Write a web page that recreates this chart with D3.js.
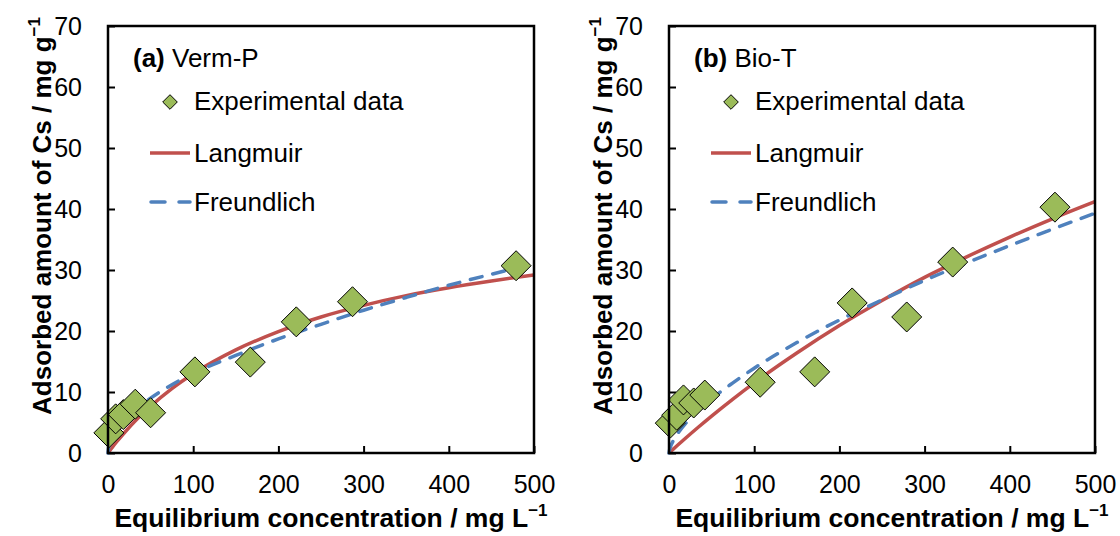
<!DOCTYPE html>
<html>
<head>
<meta charset="utf-8">
<script src="https://cdn.jsdelivr.net/npm/d3@7"></script>
<style>
  body { margin: 0; background: #fff; }
  svg text { font-family: "Liberation Sans", Arial, sans-serif; fill: #000; }
</style>
</head>
<body>
<svg id="chart" width="1120" height="536"></svg>
<script>
const xTicks = [0, 100, 200, 300, 400, 500];
const yTicks = [0, 10, 20, 30, 40, 50, 60, 70];

const curveConc = [0, 1, 2.5, 5, 10, 20, 35, 50, 75, 100, 150, 200, 250, 300, 350, 400, 450, 500];

// (a) Verm-P
const vermConc = [1, 9, 18, 32, 50, 102, 167, 221, 287, 479];
const vermAds = [3.3, 5.6, 6.3, 8.0, 6.6, 13.3, 14.9, 21.5, 24.8, 30.7];
const vermLangmuir = [0, 0.19, 0.46, 0.92, 1.8, 3.44, 5.68, 7.67, 10.56, 13.0, 16.9, 19.9, 22.3, 24.2, 25.8, 27.1, 28.2, 29.2];
const vermFreundlich = [0, 1.1, 1.79, 2.6, 3.78, 5.49, 7.41, 8.99, 11.2, 13.05, 16.0, 18.7, 21.1, 23.4, 25.5, 27.5, 29.3, 31.0];

// (b) Bio-T
const bioConc = [1.5, 9, 17, 29, 42, 107, 171, 215, 279, 333, 453];
const bioAds = [4.9, 6.2, 8.7, 8.2, 9.5, 11.6, 13.3, 24.6, 22.3, 31.3, 40.3];
const bioLangmuir = [0, 0.13, 0.32, 0.63, 1.26, 2.5, 4.3, 6.05, 8.84, 11.5, 16.4, 20.9, 25.0, 28.8, 32.2, 35.4, 38.4, 41.2];
const bioFreundlich = [0, 0.71, 1.28, 2.01, 3.14, 4.92, 7.06, 8.89, 11.5, 13.9, 18.1, 21.8, 25.1, 28.3, 31.2, 34.0, 36.7, 39.3];

const panels = [
  { tag: "(a)", name: " Verm-P", left: 108, conc: vermConc, ads: vermAds, lang: vermLangmuir, freu: vermFreundlich },
  { tag: "(b)", name: " Bio-T", left: 669, conc: bioConc, ads: bioAds, lang: bioLangmuir, freu: bioFreundlich }
];

const svg = d3.select("#chart");
const plotW = 426, plotTop = 26, plotBottom = 453;
const green = "#9BBB59", red = "#C0504D", blue = "#4F81BD";
const diamond = r => `M0,${-r}L${r},0L0,${r}L${-r},0Z`;

panels.forEach(p => {
  const x = d3.scaleLinear().domain([0, 500]).range([p.left, p.left + plotW]);
  const y = d3.scaleLinear().domain([0, 70]).range([plotBottom, plotTop]);
  const g = svg.append("g");

  // axes with inward ticks
  const ya = g.append("g").attr("transform", `translate(${p.left},0)`)
    .call(d3.axisLeft(y).tickValues(yTicks).tickSizeInner(-7).tickSizeOuter(0).tickPadding(26));
  const xa = g.append("g").attr("transform", `translate(0,${plotBottom})`)
    .call(d3.axisBottom(x).tickValues(xTicks).tickSizeInner(-7).tickSizeOuter(0).tickPadding(22));
  [ya, xa].forEach(a => {
    a.select(".domain").remove();
    a.selectAll(".tick line").attr("stroke", "#000").attr("stroke-width", 2);
    a.selectAll(".tick text").attr("font-size", 25);
    a.attr("font-family", null).attr("font-size", null);
  });

  // curves
  const line = vals => d3.line()
    .x((d, i) => x(curveConc[i]))
    .y(d => y(d))
    .curve(d3.curveMonotoneX)(vals);
  g.append("path").attr("d", line(p.lang))
    .attr("fill", "none").attr("stroke", red).attr("stroke-width", 3.5);
  g.append("path").attr("d", line(p.freu))
    .attr("fill", "none").attr("stroke", blue).attr("stroke-width", 3.5)
    .attr("stroke-dasharray", "12,11").attr("stroke-linecap", "round");

  // experimental points
  g.selectAll(".pt").data(p.conc).join("path")
    .attr("class", "pt")
    .attr("d", diamond(15))
    .attr("transform", (d, i) => `translate(${x(d)},${y(p.ads[i])})`)
    .attr("fill", green).attr("stroke", "#000").attr("stroke-width", 1);

  // frame
  g.append("rect")
    .attr("x", p.left).attr("y", plotTop)
    .attr("width", plotW).attr("height", plotBottom - plotTop)
    .attr("fill", "none").attr("stroke", "#000").attr("stroke-width", 2.5);

  // legend
  const lx = p.left;
  const t = g.append("text").attr("x", lx + 25).attr("y", 67).attr("font-size", 26);
  t.append("tspan").attr("font-weight", "bold").text(p.tag);
  t.append("tspan").text(p.name);

  g.append("path").attr("d", diamond(7.3))
    .attr("transform", `translate(${lx + 62},102)`)
    .attr("fill", green).attr("stroke", "#000").attr("stroke-width", 1);
  g.append("text").attr("x", lx + 86).attr("y", 110).attr("font-size", 26).text("Experimental data");

  g.append("line").attr("x1", lx + 42).attr("x2", lx + 82).attr("y1", 153).attr("y2", 153)
    .attr("stroke", red).attr("stroke-width", 3.5);
  g.append("text").attr("x", lx + 86).attr("y", 162).attr("font-size", 26).text("Langmuir");

  g.append("line").attr("x1", lx + 43).attr("x2", lx + 82).attr("y1", 202).attr("y2", 202)
    .attr("stroke", blue).attr("stroke-width", 3.5)
    .attr("stroke-dasharray", "14,14").attr("stroke-linecap", "round");
  g.append("text").attr("x", lx + 86).attr("y", 211).attr("font-size", 26).text("Freundlich");

  // axis titles
  const xt = g.append("text")
    .attr("x", p.left + plotW / 2 + 10).attr("y", 527)
    .attr("text-anchor", "middle").attr("font-size", 26.5).attr("font-weight", "bold")
    .text("Equilibrium concentration / mg L");
  xt.append("tspan").attr("font-size", 17).attr("dy", -11).text("\u22121");

  const yt = g.append("text")
    .attr("transform", `translate(${p.left - 57},216) rotate(-90)`)
    .attr("text-anchor", "middle").attr("font-size", 26).attr("font-weight", "bold")
    .text("Adsorbed amount of Cs / mg g");
  yt.append("tspan").attr("font-size", 17).attr("dy", -11).text("\u22121");
});
</script>
</body>
</html>
